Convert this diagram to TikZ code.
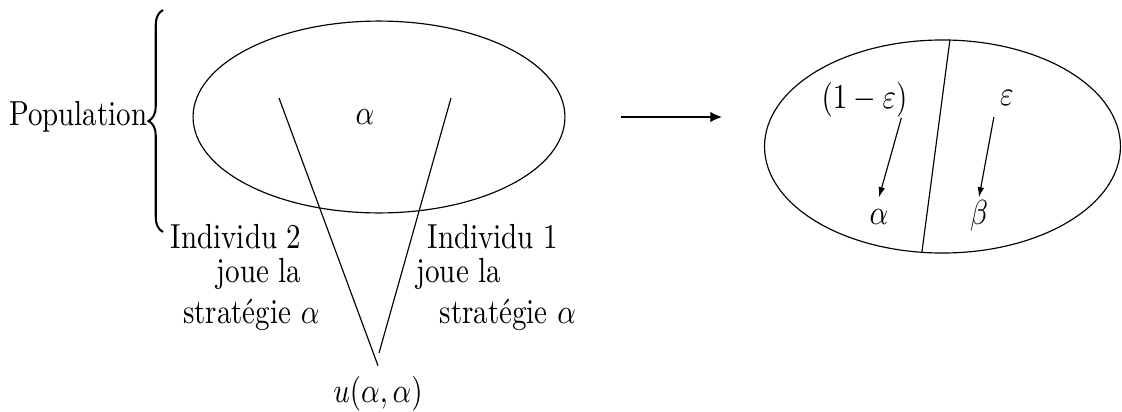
\documentclass[tikz,border=0pt]{standalone}
\usepackage{fontspec}
\usepackage{amsmath}
\usetikzlibrary{arrows.meta,positioning,calc,shapes.geometric,decorations.pathreplacing}
\newcommand{\tallt}[1]{\scalebox{1}[1.2]{#1}}
\tikzset{
  pop/.style={draw,ellipse,inner sep=0pt},
  lbl/.style={inner sep=0pt},
  greek/.style={inner sep=2pt,text height=7pt,text depth=2pt,anchor=base},
  tip/.style={-{Latex[length=3.5pt,width=2.3pt]}},
}

\begin{document}
\begin{tikzpicture}[x=0.345pt,y=-0.345pt]
  \useasboundingbox (0,0) rectangle (1122,412);
  % population, one strategy
  \node[pop,minimum width=128.3pt,minimum height=66.2pt] (popL) at (379,117) {};
  \node[greek] (alphaL) at (365,124) {\tallt{$\alpha$}};
  \node[lbl,anchor=east] (popText) at (148,117) {\tallt{Population}};
  \draw[decorate,decoration={brace,amplitude=5pt},line width=0.7pt] (163,232) -- (163,10);
  % the two players
  \coordinate (top2) at (279,98);
  \coordinate (top1) at (451,98);
  \coordinate (end1) at (379,353);
  \node[anchor=base] (payoff) at (378,402) {\tallt{$u(\alpha,\alpha)$}};
  \draw (top2) -- (payoff.north);
  \draw (top1) -- (end1);
  \node[lbl,anchor=base east] (ind2a) at (302,248) {\tallt{Individu 2}};
  \node[lbl,anchor=base east] (ind2b) at (302,282) {\tallt{joue la}};
  \node[lbl,anchor=base east] (ind2c) at (320,323) {\tallt{stratégie $\alpha$}};
  \node[lbl,anchor=base west] (ind1a) at (427,248) {\tallt{Individu 1}};
  \node[lbl,anchor=base west] (ind1b) at (416,282) {\tallt{joue la}};
  \node[lbl,anchor=base west] (ind1c) at (439,323) {\tallt{stratégie $\alpha$}};
  % mutants
  \node[pop,minimum width=122.8pt,minimum height=73.5pt] (popR) at (942.5,146.5) {};
  \draw[-{Latex[length=4pt,width=3.6pt]},shorten <=19.3pt,shorten >=14.5pt] (popL.east) -- (popL.east -| popR.west);
  \draw (popR.86) -- (popR.-101);
  \node[lbl] (omeps) at (864.5,100) {\tallt{$(1-\varepsilon)$}};
  \node[greek] (eps) at (1007,105) {\tallt{$\varepsilon$}};
  \node[greek] (alphaR) at (879,224) {\tallt{$\alpha$}};
  \node[greek] (beta) at (979,224) {\tallt{$\beta$}};
  \draw[tip] (omeps.-26) -- (alphaR.north);
  \draw[tip] (eps.south west) -- (beta.north);
\end{tikzpicture}
\end{document}
